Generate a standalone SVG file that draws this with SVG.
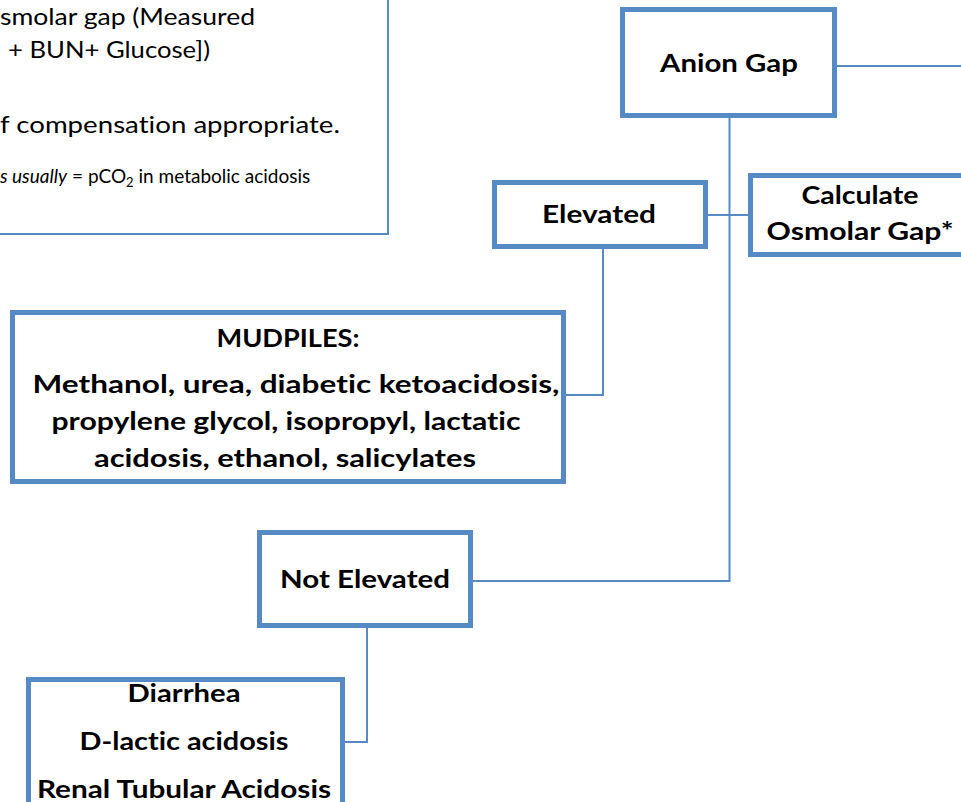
<svg xmlns="http://www.w3.org/2000/svg" width="961" height="802" viewBox="0 0 961 802">
<style>
.box{fill:#fff;stroke:#558ac4;stroke-width:5}
.note{fill:#fff;stroke:#558ac4;stroke-width:2}
.conn{fill:none;stroke:#558ac4;stroke-width:2}
text{font-variant-ligatures:none}
.b{font-family:Lato,"Liberation Sans",sans-serif;font-weight:bold;font-size:25px;fill:#000;text-anchor:middle}
.r{font-family:Lato,"Liberation Sans",sans-serif;font-size:24px;fill:#000}
.s{font-family:Lato,"Liberation Sans",sans-serif;font-size:19px;fill:#000}
</style>
<rect width="961" height="802" fill="#fff"/>
<g id="note">
<rect class="note" x="-20" y="-20" width="408" height="254"/>
<text class="r" x="0" y="25" textLength="255" lengthAdjust="spacingAndGlyphs">smolar gap (Measured</text>
<text class="r" x="8" y="58" textLength="202" lengthAdjust="spacingAndGlyphs">+ BUN+ Glucose])</text>
<text class="r" x="0" y="133" textLength="340" lengthAdjust="spacingAndGlyphs">f compensation appropriate.</text>
<text class="s" x="0" y="183"><tspan font-style="italic">s usually</tspan> = pCO<tspan font-size="13" dy="4">2</tspan><tspan dy="-4">  in metabolic acidosis</tspan></text>
</g>
<g id="connectors">
<path class="conn" d="M837 66 H961"/>
<path class="conn" d="M729.5 118 V581 H473"/>
<path class="conn" d="M708 215 H748"/>
<path class="conn" d="M603 249 V395 H566"/>
<path class="conn" d="M367 628 V742 H345"/>
</g>
<g id="anion-gap">
<rect class="box" x="622.5" y="9.5" width="212" height="106"/>
<text class="b" x="729" y="72" textLength="138" lengthAdjust="spacingAndGlyphs">Anion Gap</text>
</g>
<g id="elevated">
<rect class="box" x="494.5" y="182.5" width="211" height="64"/>
<text class="b" x="599" y="223" textLength="114" lengthAdjust="spacingAndGlyphs">Elevated</text>
</g>
<g id="osmolar">
<rect class="box" x="750.5" y="175.5" width="230" height="79"/>
<text class="b" x="860" y="204" textLength="117" lengthAdjust="spacingAndGlyphs">Calculate</text>
<text class="b" x="860" y="240" textLength="187" lengthAdjust="spacingAndGlyphs">Osmolar Gap*</text>
</g>
<g id="mudpiles">
<rect class="box" x="12.5" y="312.5" width="551" height="169"/>
<text class="b" x="288" y="347" textLength="143" lengthAdjust="spacingAndGlyphs">MUDPILES:</text>
<text class="b" x="296" y="393" textLength="527" lengthAdjust="spacingAndGlyphs">Methanol,  urea, diabetic ketoacidosis,</text>
<text class="b" x="286" y="430" textLength="469" lengthAdjust="spacingAndGlyphs">propylene glycol, isopropyl, lactatic</text>
<text class="b" x="285" y="467" textLength="382" lengthAdjust="spacingAndGlyphs">acidosis,  ethanol, salicylates</text>
</g>
<g id="not-elevated">
<rect class="box" x="259.5" y="532.5" width="211" height="93"/>
<text class="b" x="365" y="588" textLength="170" lengthAdjust="spacingAndGlyphs">Not Elevated</text>
</g>
<g id="non-gap">
<rect class="box" x="28.5" y="679.5" width="314" height="140"/>
<text class="b" x="184" y="702" textLength="113" lengthAdjust="spacingAndGlyphs">Diarrhea</text>
<text class="b" x="184" y="750" textLength="209" lengthAdjust="spacingAndGlyphs">D-lactic acidosis</text>
<text class="b" x="184" y="798" textLength="294" lengthAdjust="spacingAndGlyphs">Renal Tubular Acidosis</text>
</g>
</svg>
